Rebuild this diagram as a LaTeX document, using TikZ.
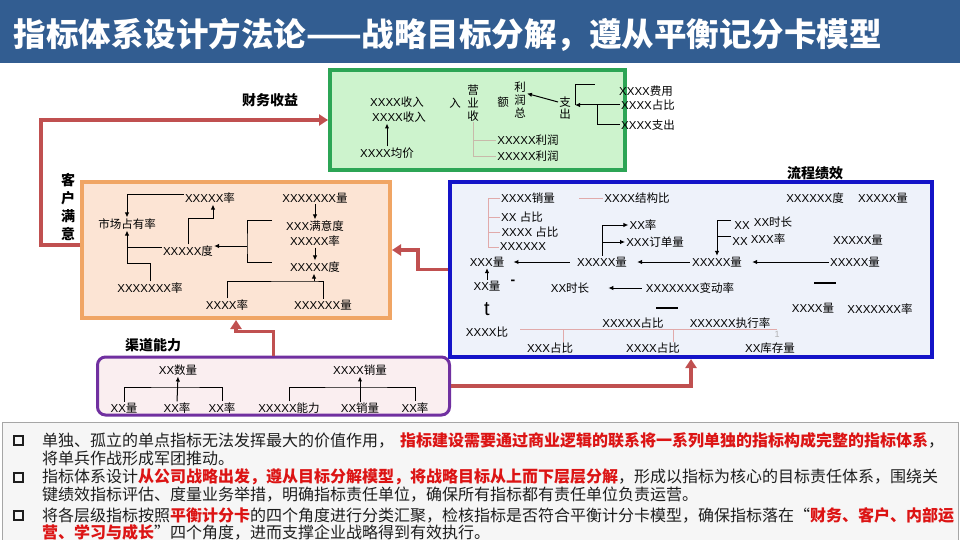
\documentclass[tikz,border=0pt]{standalone}
\usepackage{fontspec}
\setmainfont{Noto Sans CJK SC}
\newfontfamily\latinx{Liberation Sans}
\usepackage{tikz}
\usetikzlibrary{arrows.meta}

\definecolor{titleblue}{RGB}{50,93,145}
\definecolor{fingreen}{RGB}{44,165,85}
\definecolor{finfill}{RGB}{205,243,205}
\definecolor{custline}{RGB}{240,165,100}
\definecolor{custfill}{RGB}{252,228,212}
\definecolor{procline}{RGB}{20,20,200}
\definecolor{procfill}{RGB}{238,242,250}
\definecolor{chanline}{RGB}{112,48,160}
\definecolor{chanfill}{RGB}{250,238,240}
\definecolor{flowred}{RGB}{192,80,80}
\definecolor{hlred}{RGB}{220,20,20}
\definecolor{txtc}{RGB}{30,30,30}
\definecolor{tickf}{RGB}{200,185,170}
\definecolor{tickp}{RGB}{225,170,170}

\newcommand{\xx}[1]{{\latinx #1}}
\newcommand{\redb}[1]{\textcolor{hlred}{\bfseries #1}}

\tikzset{
  lbl/.style={font=\fontsize{11.5}{13}\selectfont, inner sep=1pt},
  boxlbl/.style={font=\fontsize{14}{18}\selectfont\bfseries, inner sep=1pt},
  arr/.style={-{Latex[length=5pt,width=4.5pt]}, line width=1pt},
  link/.style={line width=1pt},
  faintf/.style={draw=tickf, line width=0.8pt},
  faintp/.style={draw=tickp, line width=0.8pt},
  flow/.style={draw=flowred, line width=3.5pt, -{Triangle[length=9pt,width=11pt]}},
  finbox/.style={draw=fingreen, fill=finfill, line width=4pt, minimum width=295pt, minimum height=100pt, inner sep=0pt},
  custbox/.style={draw=custline, fill=custfill, line width=4pt, minimum width=308pt, minimum height=136pt, inner sep=0pt},
  procbox/.style={draw=procline, fill=procfill, line width=4pt, minimum width=482pt, minimum height=175pt, inner sep=0pt},
  chanbox/.style={draw=chanline, fill=chanfill, line width=3pt, rounded corners=8pt, minimum width=352pt, minimum height=58pt, inner sep=0pt},
  notebox/.style={draw=gray!70, fill=gray!7, line width=0.8pt, minimum width=956pt, minimum height=119pt, inner sep=0pt},
  para/.style={anchor=west, font=\fontsize{16}{18}\selectfont, text=txtc, inner sep=0pt},
  bul/.style={draw=txtc, line width=2pt, minimum size=9pt, inner sep=0pt},
}

\begin{document}
\begin{tikzpicture}[x=1pt,y=-1pt]
\useasboundingbox (0,0) rectangle (960,540);

% title bar
\fill[titleblue] (0,0) rectangle (960,63);
\node[anchor=west, text=white, font=\fontsize{32.5}{36}\selectfont\bfseries] (title) at (10,35) {指标体系设计方法论——战略目标分解，遵从平衡记分卡模型};

% four boxes and the note box
\node[finbox] (fin) at (477.5,120) {};
\node[custbox] (cust) at (236,250) {};
\node[procbox] (proc) at (691,269.5) {};
\node[chanbox] (chan) at (273.5,386) {};
\node[notebox] (note) at (480,481.5) {};

\node[boxlbl] (finlbl) at (270,100) {财务收益};
\node[boxlbl, align=center] (custlbl) at (68,207) {客\\户\\满\\意};
\node[boxlbl] (proclbl) at (815,173) {流程绩效};
\node[boxlbl] (chanlbl) at (153,345) {渠道能力};

% red links between the boxes
\draw[flow] ([yshift=5pt]cust.west) -- ++(-39,0) |- (fin.west);
\draw[flow] (proc.west) -- ++(-30,0) |- (cust.east);
\draw[flow] (chan.north) -- ++(0,-24) -| (cust.south);
\draw[flow] (chan.east) -| (proc.south);

% financial
\node[lbl] (fa) at (397,102) {\xx{XXXX}收入};
\node[lbl] (fb) at (399,117) {\xx{XXXX}收入};
\node[lbl] (fc) at (387,153) {\xx{XXXX}均价};
\draw[arr] (fc.north) -- (fc.north |- fb.south);
\node[lbl] (fying) at (473,90) {营};
\node[lbl] (fye) at (473,103) {业};
\node[lbl] (fshou) at (473,116) {收};
\node[lbl] (fru) at (455,103) {入};
\node[lbl] (fli) at (520,87) {利};
\node[lbl] (fe) at (503,102) {额};
\node[lbl] (frun) at (520,100) {润};
\node[lbl] (fzong) at (520,113) {总};
\node[lbl] (fzhi) at (565,102) {支};
\node[lbl] (fchu) at (565,114) {出};
\draw[arr] (fzhi.west) -- (frun.north east);
\node[lbl] (fcost) at (646,91) {\xx{XXXX}费用};
\node[lbl] (fshare) at (648,105) {\xx{XXXX}占比};
\node[lbl] (fout) at (648,125) {\xx{XXXX}支出};
\coordinate (fj1) at (575,105);
\coordinate (fj2) at (597,105);
\draw[arr] (fshare.west) -- (fj1);
\draw[link] (fj1) |- ++(20,-20);
\draw[link] (fj2) |- (fout.west);
\node[lbl] (fp1) at (528,140) {\xx{XXXXX}利润};
\node[lbl] (fp2) at (528,156) {\xx{XXXXX}利润};
\draw[faintf] (fshou.south) |- (fp1.west);
\draw[faintf] (fshou.south) |- (fp2.west);

% customer
\node[lbl] (c1) at (210,198) {\xx{XXXXX}率};
\node[lbl] (c2) at (315,198) {\xx{XXXXXXX}量};
\node[lbl] (c3) at (127,224) {市场占有率};
\node[lbl] (c4) at (315,226) {\xx{XXX}满意度};
\node[lbl] (c5) at (315,241) {\xx{XXXXX}率};
\node[lbl] (c6) at (188,251) {\xx{XXXXX}度};
\node[lbl] (c7) at (315,267) {\xx{XXXXX}度};
\node[lbl] (c8) at (150,288) {\xx{XXXXXXX}率};
\node[lbl] (c9) at (227,305) {\xx{XXXX}率};
\node[lbl] (c10) at (323,305) {\xx{XXXXXX}量};
\draw[arr] ([yshift=4pt]c1.west) -| (c3.north);
\coordinate (c1k) at (213,218);
\draw[arr] (c6.north) |- (c1k) -- (c1k |- c1.south);
\coordinate (c6w) at ([yshift=4pt]c6.west);
\draw[link] (c6w) -- (c6w -| c3.south);
\draw[arr] (c8.north) |- ++(-23,-18) -- (c3.south);
\coordinate (cbt) at (272,220);
\coordinate (cbm) at (247,246);
\coordinate (cbb) at (272,262);
\draw[link] (cbt) -| (cbm) |- (cbb);
\draw[arr] (cbm) -- (c6.east |- cbm);
\draw[arr] (c2.south) -- (c4.north);
\draw[arr] (c5.south) -- (c7.north);
\coordinate (cjoin) at (314,281);
\draw[link] (c9.north) |- (cjoin) -| (c10.north);
\draw[arr] (cjoin) -- (cjoin |- c7.south);

% process
\node[lbl] (p1) at (528,198) {\xx{XXXX}销量};
\node[lbl] (p2) at (522,217) {\xx{XX }占比};
\node[lbl] (p3) at (530,232) {\xx{XXXX }占比};
\node[lbl] (p4) at (523,247) {\xx{XXXXXX}};
\node[lbl] (p5) at (637,198) {\xx{XXXX}结构比};
\node[lbl] (p6) at (487,262) {\xx{XXX}量};
\node[lbl] (p7) at (602,262) {\xx{XXXXX}量};
\node[lbl] (p8) at (643,225) {\xx{XX}率};
\node[lbl] (p9) at (655,242) {\xx{XXX}订单量};
\node[lbl] (p10) at (487,286) {\xx{XX}量};
\node[lbl] (p11) at (570,288) {\xx{XX}时长};
\node[lbl] (p12) at (690,288) {\xx{XXXXXXX}变动率};
\node[lbl] (p13) at (487,332) {\xx{XXXX}比};
\node[lbl] (p14) at (633,323) {\xx{XXXXX}占比};
\node[lbl] (p15) at (730,323) {\xx{XXXXXX}执行率};
\node[lbl] (p16) at (550,348) {\xx{XXX}占比};
\node[lbl] (p17) at (653,348) {\xx{XXXX}占比};
\node[lbl] (p18) at (770,348) {\xx{XX}库存量};
\node[lbl] (p19) at (815,198) {\xx{XXXXXX}度};
\node[lbl] (p20) at (883,198) {\xx{XXXXX}量};
\node[lbl] (p21) at (717,262) {\xx{XXXXX}量};
\node[lbl] (p22) at (742,226) {\xx{XX}};
\node[lbl] (p23) at (773,222) {\xx{XX}时长};
\node[lbl] (p24) at (740,242) {\xx{XX}};
\node[lbl] (p25) at (768,239) {\xx{XXX}率};
\node[lbl] (p26) at (858,240) {\xx{XXXXX}量};
\node[lbl] (p27) at (855,262) {\xx{XXXXX}量};
\node[lbl] (p28) at (813,308) {\xx{XXXX}量};
\node[lbl] (p29) at (880,309) {\xx{XXXXXXX}率};
\node[lbl, font=\fontsize{14}{14}\selectfont\bfseries] (pdash) at (513,282) {\xx{-}};
\node[lbl, font=\fontsize{20}{20}\selectfont] (pt) at (487,309) {\xx{t}};
\node[inner sep=0pt] (pbar1) at (667,308) {\rule{22pt}{2.2pt}};
\node[inner sep=0pt] (pbar2) at (825,283) {\rule{22pt}{2.2pt}};
\node[lbl, text=gray!60, font=\fontsize{9}{9}\selectfont] (pone) at (777,334) {\xx{1}};

\coordinate (pv) at (488,198);
\draw[faintp] (p1.west) -| (pv |- p4.west) -- (p4.west);
\draw[faintp] (p2.west) -- (p2.west -| pv);
\draw[faintp] (p3.west) -- (p3.west -| pv);
\draw[faintp] ([xshift=23pt]p1.east) -- (p5.west);
\draw[arr] ([xshift=-6pt]p7.west) -- ([xshift=8pt]p6.east);
\draw[arr] ([xshift=-1pt]p21.west) -- ([xshift=9pt]p7.east);
\draw[arr] (p27.west) -- ([xshift=9pt]p21.east);
\draw[arr] ([xshift=-3pt]p12.west) -- ([xshift=18pt]p11.east);
\draw[arr] (p7.north) |- (p8.west);
\draw[arr] (p7.north |- p9.west) -- (p9.west);
\draw[arr] (p10.north) -- (p6.south);
\coordinate (pk1) at (731,220);
\coordinate (pk2) at (731,236);
\draw[arr] (pk1) -| (p21.north);
\draw[link] (pk2) -- (pk2 -| p21.north);
\coordinate (pl1) at (520,329);
\coordinate (pl2) at (777,329);
\coordinate (pt1) at (563,329);
\coordinate (pt2) at (673,329);
\draw[faintp] (pl1) -- (pl2);
\draw[faintp] (pt1) -- (pt1 |- p16.north);
\draw[faintp] (pt2) -- (pt2 |- p17.north);

% channel
\node[lbl] (ch0) at (178,370) {\xx{XX}数量};
\node[lbl] (ch4) at (360,370) {\xx{XXXX}销量};
\node[lbl] (ch1) at (124,408) {\xx{XX}量};
\node[lbl] (ch2) at (177,408) {\xx{XX}率};
\node[lbl] (ch3) at (222,408) {\xx{XX}率};
\node[lbl] (ch5) at (289,408) {\xx{XXXXX}能力};
\node[lbl] (ch6) at (360,408) {\xx{XX}销量};
\node[lbl] (ch7) at (415,408) {\xx{XX}率};
\coordinate (hb1) at (177,387);
\draw[link] (ch1.north) |- (hb1) -| (ch3.north);
\draw[arr] (ch2.north) -- (ch0.south);
\coordinate (hb2) at (360,387);
\draw[link] (ch5.north) |- (hb2) -| (ch7.north);
\draw[arr] (ch6.north) -- (ch4.south);

% notes
\node[bul] (b1) at (18,440) {};
\node[bul] (b2) at (18,477) {};
\node[bul] (b3) at (18,515) {};
\node[para] (n1) at (42,440) {单独、孤立的单点指标无法发挥最大的价值作用，\hspace{6pt}\redb{指标建设需要通过商业逻辑的联系将一系列单独的指标构成完整的指标体系}，};
\node[para] (n2) at (42,458) {将单兵作战形成军团推动。};
\node[para] (n3) at (42,477) {指标体系设计\redb{从公司战略出发，遵从目标分解模型，将战略目标从上而下层层分解}，形成以指标为核心的目标责任体系，围绕关};
\node[para] (n4) at (42,495) {键绩效指标评估、度量业务举措，明确指标责任单位，确保所有指标都有责任单位负责运营。};
\node[para] (n5) at (42,515) {将各层级指标按照\redb{平衡计分卡}的四个角度进行分类汇聚，检核指标是否符合平衡计分卡模型，确保指标落在“\redb{财务、客户、内部运}};
\node[para] (n6) at (42,532) {\redb{营、学习与成长}”四个角度，进而支撑企业战略得到有效执行。};
\end{tikzpicture}
\end{document}
